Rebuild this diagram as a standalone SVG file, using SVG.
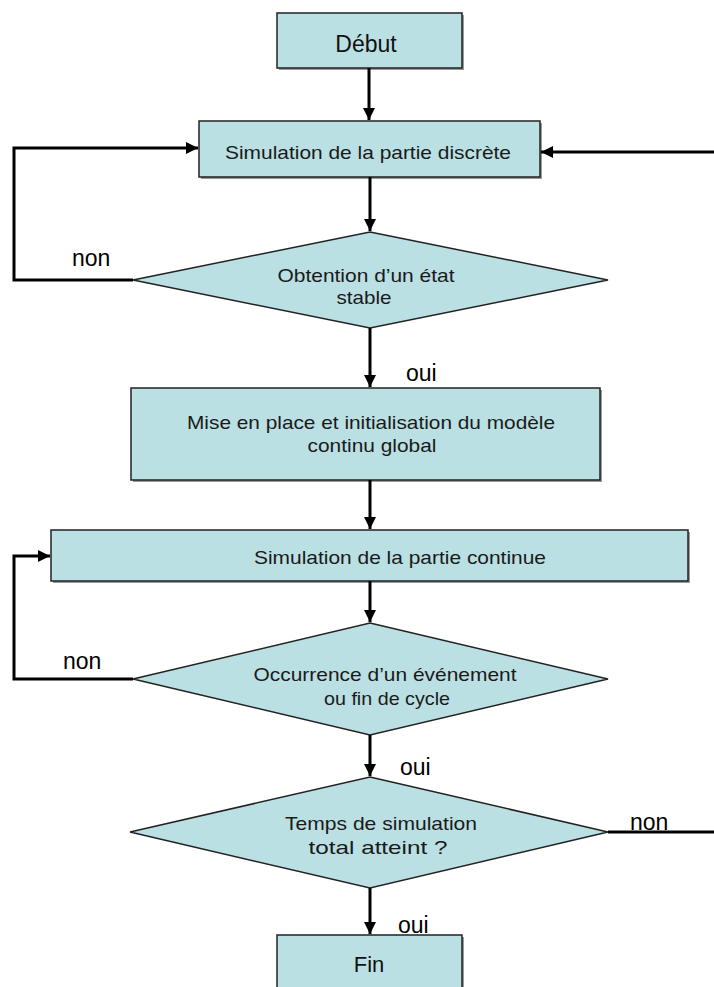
<svg xmlns="http://www.w3.org/2000/svg" width="714" height="987" viewBox="0 0 714 987">
<defs>
<marker id="ah" viewBox="0 0 12 12" refX="12" refY="6" markerWidth="12" markerHeight="12" markerUnits="userSpaceOnUse" orient="auto">
<path d="M0,0 L12,6 L0,12 Z" fill="#000"/>
</marker>
</defs>
<style>
.n{fill:#BAE0E3;stroke:#222;stroke-width:1.5}
.sh{fill:#9a9a9a}
.t{font-family:"Liberation Sans",Arial,sans-serif;font-size:19px;fill:#1a1a1a;text-anchor:middle}
.b{font-family:"Liberation Sans",Arial,sans-serif;font-size:23px;fill:#111;text-anchor:middle}
.l{font-family:"Liberation Sans",Arial,sans-serif;font-size:23px;fill:#000}
.c{fill:none;stroke:#000;stroke-width:3}
</style>
<rect width="714" height="987" fill="#fff"/>
<g id="debut">
<rect class="sh" x="279" y="15" width="185" height="55"/>
<rect class="n" x="277" y="13" width="185" height="55"/>
<text class="b" x="366" y="52">Début</text>
</g>
<g id="sim-discrete">
<rect class="sh" x="201" y="123" width="341" height="56"/>
<rect class="n" x="199" y="121" width="341" height="56"/>
<text class="t" x="368" y="159" textLength="286" lengthAdjust="spacingAndGlyphs">Simulation de la partie discrète</text>
</g>
<g id="etat-stable">
<polygon class="n" points="370,232 608,280 370,328 133,280"/>
<text class="t" x="366" y="282" textLength="177" lengthAdjust="spacingAndGlyphs">Obtention d’un état</text>
<text class="t" x="364" y="304" textLength="55" lengthAdjust="spacingAndGlyphs">stable</text>
</g>
<g id="mise-en-place">
<rect class="sh" x="133" y="390" width="469" height="92"/>
<rect class="n" x="131" y="388" width="469" height="92"/>
<text class="t" x="371" y="429" textLength="368" lengthAdjust="spacingAndGlyphs">Mise en place et initialisation du modèle</text>
<text class="t" x="372" y="452" textLength="129" lengthAdjust="spacingAndGlyphs">continu global</text>
</g>
<g id="sim-continue">
<rect class="sh" x="53" y="532" width="637" height="51"/>
<rect class="n" x="51" y="530" width="637" height="51"/>
<text class="t" x="400" y="564" textLength="292" lengthAdjust="spacingAndGlyphs">Simulation de la partie continue</text>
</g>
<g id="evenement">
<polygon class="n" points="370,623 608,679 370,735 133,679"/>
<text class="t" x="385" y="681" textLength="263" lengthAdjust="spacingAndGlyphs">Occurrence d’un événement</text>
<text class="t" x="387" y="705" textLength="126" lengthAdjust="spacingAndGlyphs">ou fin de cycle</text>
</g>
<g id="temps">
<polygon class="n" points="370,777 608,832 370,888 130,832"/>
<text class="t" x="381" y="830" textLength="192" lengthAdjust="spacingAndGlyphs">Temps de simulation</text>
<text class="t" x="378" y="854" textLength="139" lengthAdjust="spacingAndGlyphs">total atteint ?</text>
</g>
<g id="fin">
<rect class="sh" x="279" y="937" width="185" height="60"/>
<rect class="n" x="277" y="935" width="185" height="60"/>
<text class="b" x="369" y="972" style="font-size:22px">Fin</text>
</g>
<g id="connectors">
<path class="c" d="M369,68 V120" marker-end="url(#ah)"/>
<path class="c" d="M714,152 H541" marker-end="url(#ah)"/>
<path class="c" d="M133,280 H14 V148 H198" marker-end="url(#ah)"/>
<path class="c" d="M370,177 V231" marker-end="url(#ah)"/>
<path class="c" d="M370,328 V387" marker-end="url(#ah)"/>
<path class="c" d="M370,480 V529" marker-end="url(#ah)"/>
<path class="c" d="M133,679 H14 V556 H50" marker-end="url(#ah)"/>
<path class="c" d="M370,581 V622" marker-end="url(#ah)"/>
<path class="c" d="M370,735 V776" marker-end="url(#ah)"/>
<path class="c" d="M608,832 H714"/>
<path class="c" d="M370,888 V934" marker-end="url(#ah)"/>
<text class="l" x="72" y="266">non</text>
<text class="l" x="406" y="381">oui</text>
<text class="l" x="63" y="669">non</text>
<text class="l" x="400" y="775">oui</text>
<text class="l" x="630" y="830">non</text>
<text class="l" x="398" y="933">oui</text>
</g>
</svg>
